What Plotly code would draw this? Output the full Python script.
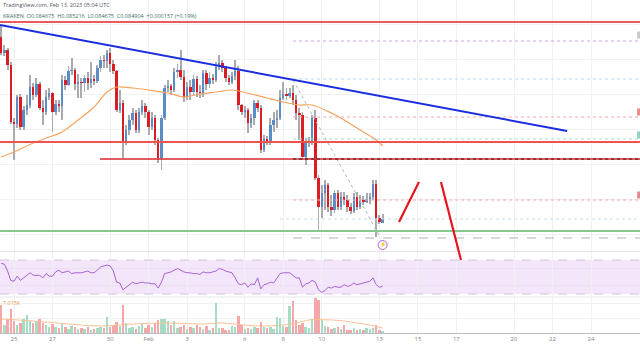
import pandas as pd
import plotly.graph_objects as go

# ---------------- data (4h candles) ----------------
times = pd.date_range("2023-01-24 08:00", periods=120, freq="4h")

opens = [0.09582, 0.09486, 0.09504, 0.09414, 0.09072, 0.09060, 0.09222, 0.09042, 0.09144, 0.09174,
         0.09282, 0.09234, 0.09300, 0.09156, 0.09132, 0.09222, 0.09246, 0.09132, 0.09180, 0.09168,
         0.09324, 0.09294, 0.09378, 0.09384, 0.09300, 0.09312, 0.09306, 0.09336, 0.09306, 0.09330,
         0.09318, 0.09396, 0.09444, 0.09438, 0.09486, 0.09420, 0.09378, 0.09144, 0.09186, 0.08952,
         0.09024, 0.09084, 0.09126, 0.09024, 0.09132, 0.09168, 0.09132, 0.09042, 0.09096, 0.08964,
         0.08856, 0.09096, 0.09276, 0.09288, 0.09264, 0.09372, 0.09384, 0.09342, 0.09222, 0.09282,
         0.09252, 0.09330, 0.09252, 0.09246, 0.09366, 0.09300, 0.09336, 0.09324, 0.09402, 0.09426,
         0.09396, 0.09336, 0.09312, 0.09348, 0.09378, 0.09174, 0.09132, 0.09144, 0.09066, 0.09096,
         0.09186, 0.09156, 0.08904, 0.08970, 0.08958, 0.09054, 0.09084, 0.09096, 0.09216, 0.09240,
         0.09228, 0.09246, 0.09204, 0.09126, 0.09114, 0.08862, 0.08952, 0.08958, 0.09096, 0.08736,
         0.08562, 0.08646, 0.08694, 0.08562, 0.08544, 0.08646, 0.08562, 0.08622, 0.08604, 0.08562,
         0.08538, 0.08622, 0.08562, 0.08604, 0.08592, 0.08610, 0.08622, 0.08700, 0.08496, 0.084675]

highs = [0.09654, 0.09534, 0.09516, 0.09432, 0.09096, 0.09234, 0.09240, 0.09168, 0.09234, 0.09354,
         0.09306, 0.09336, 0.09312, 0.09204, 0.09264, 0.09276, 0.09252, 0.09204, 0.09204, 0.09354,
         0.09348, 0.09408, 0.09456, 0.09396, 0.09360, 0.09336, 0.09354, 0.09372, 0.09432, 0.09354,
         0.09414, 0.09468, 0.09474, 0.09504, 0.09516, 0.09444, 0.09384, 0.09264, 0.09204, 0.09054,
         0.09114, 0.09156, 0.09144, 0.09156, 0.09204, 0.09186, 0.09144, 0.09132, 0.09114, 0.08976,
         0.09114, 0.09294, 0.09324, 0.09300, 0.09396, 0.09420, 0.09504, 0.09384, 0.09312, 0.09324,
         0.09354, 0.09348, 0.09294, 0.09384, 0.09384, 0.09372, 0.09360, 0.09432, 0.09474, 0.09444,
         0.09408, 0.09354, 0.09372, 0.09444, 0.09408, 0.09180, 0.09168, 0.09156, 0.09120, 0.09204,
         0.09204, 0.09174, 0.08994, 0.08988, 0.09096, 0.09132, 0.09144, 0.09264, 0.09312, 0.09276,
         0.09276, 0.09294, 0.09234, 0.09156, 0.09132, 0.08976, 0.08982, 0.09114, 0.09144, 0.08754,
         0.08694, 0.08724, 0.08706, 0.08634, 0.08664, 0.08664, 0.08652, 0.08652, 0.08634, 0.08586,
         0.08646, 0.08652, 0.08634, 0.08628, 0.08646, 0.08646, 0.08724, 0.08724, 0.08514, 0.085216]

lows = [0.09474, 0.09468, 0.09384, 0.09060, 0.08844, 0.09036, 0.09024, 0.09024, 0.09114, 0.09156,
        0.09204, 0.09222, 0.09144, 0.09054, 0.09114, 0.09204, 0.09012, 0.09114, 0.09132, 0.09084,
        0.09264, 0.09288, 0.09354, 0.09264, 0.09216, 0.09216, 0.09252, 0.09264, 0.09276, 0.09294,
        0.09306, 0.09372, 0.09396, 0.09396, 0.09372, 0.09360, 0.09132, 0.09126, 0.08856, 0.08934,
        0.08994, 0.09054, 0.09006, 0.09006, 0.09114, 0.09096, 0.08994, 0.09024, 0.08934, 0.08826,
        0.08784, 0.09084, 0.09252, 0.09234, 0.09252, 0.09336, 0.09324, 0.09192, 0.09204, 0.09204,
        0.09234, 0.09222, 0.09216, 0.09222, 0.09264, 0.09276, 0.09300, 0.09312, 0.09384, 0.09372,
        0.09312, 0.09294, 0.09300, 0.09324, 0.09144, 0.09114, 0.09096, 0.09006, 0.09036, 0.09054,
        0.09132, 0.08886, 0.08892, 0.08934, 0.08934, 0.09012, 0.09036, 0.09084, 0.09204, 0.09204,
        0.09216, 0.09174, 0.09084, 0.08964, 0.08844, 0.08814, 0.08922, 0.08934, 0.08724, 0.08424,
        0.08496, 0.08544, 0.08532, 0.08508, 0.08526, 0.08544, 0.08544, 0.08574, 0.08532, 0.08520,
        0.08526, 0.08544, 0.08550, 0.08574, 0.08586, 0.08580, 0.08604, 0.08382, 0.08460, 0.084675]

closes = [0.09486, 0.09504, 0.09414, 0.09072, 0.09060, 0.09222, 0.09042, 0.09144, 0.09174, 0.09282,
          0.09234, 0.09300, 0.09156, 0.09132, 0.09222, 0.09246, 0.09132, 0.09180, 0.09168, 0.09324,
          0.09294, 0.09378, 0.09384, 0.09300, 0.09312, 0.09306, 0.09336, 0.09306, 0.09330, 0.09318,
          0.09396, 0.09444, 0.09438, 0.09486, 0.09420, 0.09378, 0.09144, 0.09186, 0.08952, 0.09024,
          0.09084, 0.09126, 0.09024, 0.09132, 0.09168, 0.09132, 0.09042, 0.09096, 0.08964, 0.08856,
          0.09096, 0.09276, 0.09288, 0.09264, 0.09372, 0.09384, 0.09342, 0.09222, 0.09282, 0.09252,
          0.09330, 0.09252, 0.09246, 0.09366, 0.09300, 0.09336, 0.09324, 0.09402, 0.09426, 0.09396,
          0.09336, 0.09312, 0.09348, 0.09378, 0.09174, 0.09132, 0.09144, 0.09066, 0.09096, 0.09186,
          0.09156, 0.08904, 0.08970, 0.08958, 0.09054, 0.09084, 0.09096, 0.09216, 0.09240, 0.09228,
          0.09246, 0.09204, 0.09126, 0.09114, 0.08862, 0.08952, 0.08958, 0.09096, 0.08736, 0.08562,
          0.08646, 0.08694, 0.08562, 0.08544, 0.08646, 0.08562, 0.08622, 0.08604, 0.08562, 0.08538,
          0.08622, 0.08562, 0.08604, 0.08592, 0.08610, 0.08622, 0.08700, 0.08496, 0.084747, 0.084904]

rsi = [66, 65, 57, 46, 45, 51, 46, 49, 51, 55,
       52, 52, 52, 49, 54, 51, 51, 56, 58, 55,
       56, 57, 54, 55, 55, 55, 56, 57, 55, 55,
       58, 62, 63, 64, 63, 57, 44, 43, 35, 38,
       41, 44, 42, 43, 44, 43, 43, 42, 42, 37,
       44, 54, 55, 56, 58, 60, 58, 56, 55, 55,
       54, 54, 53, 56, 55, 55, 56, 57, 60, 59,
       57, 56, 55, 49, 42, 41, 43, 38, 42, 41,
       49, 36, 41, 42, 44, 43, 48, 54, 55, 55,
       55, 52, 49, 49, 38, 42, 43, 46, 44, 35,
       32, 34, 38, 37, 39, 38, 38, 41, 39, 40,
       43, 41, 42, 43, 44, 45, 49, 41, 38, 39]

volume = [14000, 4000, 7000, 12000, 6000, 4000, 5000, 7000, 9000, 6000,
          5000, 6000, 7000, 5000, 4000, 3000, 4500, 3000, 2500, 5000,
          3000, 2000, 3500, 3000, 2000, 2500, 2000, 3000, 1500, 2000,
          2500, 3000, 2500, 8000, 3000, 4000, 5500, 3500, 14000, 5000,
          2500, 3000, 2000, 3500, 4500, 2500, 4000, 3000, 5000, 6500,
          7000, 7000, 6000, 4000, 6000, 2500, 3000, 4000, 2000, 3000,
          2500, 4000, 3000, 2000, 3500, 1500, 2500, 15000, 2500, 2500,
          1500, 1500, 3500, 3000, 8500, 4000, 2000, 2500, 2000, 3000,
          2500, 5500, 3000, 2500, 3000, 2000, 8000, 7500, 3500, 3000,
          13500, 16000, 6500, 4000, 5000, 3000, 2500, 7000, 17500, 16500,
          6500, 3500, 3000, 2000, 2500, 3000, 2000, 4000, 1500, 1500,
          2500, 1500, 2000, 1500, 2500, 2000, 2500, 4000, 1500, 1000]

# moving average of price (orange), read at selected candles
ma_idx = [0, 4, 10, 15, 19, 24, 29, 33, 36, 41, 46, 52, 57, 62, 67, 72, 78, 83, 88, 93,
          97, 103, 107, 111, 113, 117, 119]
ma_vals = [0.08862, 0.08892, 0.08946, 0.08982, 0.09012, 0.09084, 0.09162, 0.09252, 0.09282,
           0.09276, 0.09264, 0.09246, 0.09222, 0.09240, 0.09252, 0.09264, 0.09240, 0.09216,
           0.09192, 0.09174, 0.09174, 0.09126, 0.09084, 0.09036, 0.09012, 0.08964, 0.08928]

# volume moving average (light orange)
vma_idx = [0, 10, 21, 31, 41, 52, 62, 69, 80, 88, 92, 96, 103, 107, 111, 115, 119]
vma_vals = [7000, 6000, 4500, 3500, 4500, 5000, 4500, 5000, 3500, 4000, 5000, 6500, 6500,
            6000, 5000, 4000, 2500]

tick_dates = ["2023-01-25", "2023-01-27", "2023-01-30", "2023-02-01", "2023-02-03",
              "2023-02-06", "2023-02-08", "2023-02-10", "2023-02-13", "2023-02-15",
              "2023-02-17", "2023-02-20", "2023-02-22", "2023-02-24"]
tick_text = ["25", "27", "30", "Feb", "3", "6", "8", "10", "13", "15", "17", "20", "22", "24"]

# drawn levels
resistance_top = 0.09672
trend_pts = (("2023-01-24 06:32", 0.09654), ("2023-02-22 18:15", 0.09018))
red_level = 0.08952
red_level2 = 0.08850
red_level2_start = "2023-01-29 11:20"
support_green = 0.08418
fib_start = "2023-02-08 12:15"
fib_levels = [0.09558, 0.09330, 0.09102, 0.08970, 0.08604, 0.08376]
fib_colors = ["#c4a8e0", "#b5dcef", "#f2a9a9", "#a5dccd", "#f2a9a9", "#b0b0b0"]
last_price_line = 0.08490
last_price_start = "2023-02-07 20:00"
fib_diag = (("2023-02-08 12:15", 0.09324), ("2023-02-13 00:45", 0.08382))
arrow_up = (("2023-02-14 00:25", 0.08472), ("2023-02-15 01:20", 0.08712))
arrow_down = (("2023-02-16 04:50", 0.08712), ("2023-02-17 05:45", 0.08244))
event_pt = ("2023-02-13 04:00", 0.08334)
edge_tags = [(0.09594, "#c9c9cf"), (0.09132, "#e88a8a"), (0.08994, "#8fd3c3"), (0.08634, "#e88a8a")]

x_range = ["2023-01-24 06:32", "2023-02-26 13:09"]
price_range = [0.08298, 0.09804]
rsi_range = [26.5, 79.4]
vol_range = [0, 18000]

# ---------------- layout geometry ----------------
H_PLOT = 333.0
dom_price = [(H_PLOT - 251) / H_PLOT, 1.0]
dom_rsi = [(H_PLOT - 297) / H_PLOT, (H_PLOT - 252) / H_PLOT]
dom_vol = [0.0, (H_PLOT - 297) / H_PLOT]

t0 = pd.Timestamp(x_range[0])
t1 = pd.Timestamp(x_range[1])


def xp(t):
    return (pd.Timestamp(t) - t0) / (t1 - t0)


def yp(p):
    return dom_price[0] + (p - price_range[0]) / (price_range[1] - price_range[0]) * (dom_price[1] - dom_price[0])


def pix(py):
    return (H_PLOT - py) / H_PLOT


UP = "#5a8dc6"
DN = "#dc1c22"
WICK = "#a9abb0"
period_ms = 4 * 3600 * 1000

up_flags = [c >= o for o, c in zip(opens, closes)]
body_base = [min(o, c) for o, c in zip(opens, closes)]
body_h = [max(abs(c - o), 0.00002) for o, c in zip(opens, closes)]
wick_h = [h - l for h, l in zip(highs, lows)]

fig = go.Figure()

# wicks
fig.add_trace(go.Bar(x=times, y=wick_h, base=lows, width=0.28 * period_ms,
                     marker=dict(color=WICK, line=dict(width=0)), xaxis="x", yaxis="y",
                     hoverinfo="skip", showlegend=False))
# bodies
fig.add_trace(go.Bar(x=times, y=body_h, base=body_base, width=0.76 * period_ms,
                     marker=dict(color=[UP if u else DN for u in up_flags], line=dict(width=0)),
                     xaxis="x", yaxis="y", showlegend=False))
# price MA
fig.add_trace(go.Scatter(x=[times[i] for i in ma_idx], y=ma_vals, mode="lines",
                         line=dict(color="#f5a35e", width=1.2, shape="spline", smoothing=0.8),
                         xaxis="x", yaxis="y", showlegend=False, hoverinfo="skip"))
# event marker
fig.add_trace(go.Scatter(x=[event_pt[0]], y=[event_pt[1]], mode="markers+text", text=["⚡"],
                         textposition="middle center", textfont=dict(size=5, color="#b163d6"),
                         marker=dict(symbol="circle", size=9, color="white",
                                     line=dict(color="#b163d6", width=1)),
                         xaxis="x", yaxis="y", showlegend=False, cliponaxis=False))

# RSI
fig.add_trace(go.Scatter(x=times, y=rsi, mode="lines", line=dict(color="#a862d2", width=1),
                         xaxis="x2", yaxis="y2", showlegend=False))

# volume
fig.add_trace(go.Bar(x=times, y=volume, width=0.76 * period_ms,
                     marker=dict(color=["#a6dbc4" if u else "#f5a6a8" for u in up_flags],
                                 line=dict(width=0)),
                     xaxis="x3", yaxis="y3", showlegend=False))
fig.add_trace(go.Scatter(x=[times[i] for i in vma_idx], y=vma_vals, mode="lines",
                         line=dict(color="#fbc195", width=1, shape="spline"),
                         xaxis="x3", yaxis="y3", showlegend=False))

shapes = []
# RSI band
shapes.append(dict(type="rect", xref="x2 domain", yref="y2", x0=0, x1=1, y0=30, y1=70,
                   fillcolor="#f3e6fb", line=dict(width=0), layer="below"))
for lv in (70, 30):
    shapes.append(dict(type="line", xref="x2 domain", yref="y2", x0=0, x1=1, y0=lv, y1=lv,
                       line=dict(color="#cdb8de", width=0.8, dash="dash")))
for lv in (60, 40):
    shapes.append(dict(type="line", xref="x2 domain", yref="y2", x0=0, x1=1, y0=lv, y1=lv,
                       line=dict(color="#e9dcf3", width=0.8), layer="below"))

# pane separators
for py in (251.5, 297):
    shapes.append(dict(type="line", xref="paper", yref="paper", x0=0, x1=1,
                       y0=pix(py), y1=pix(py), line=dict(color="#e3e5ea", width=1)))

# fib levels
for lv, col in zip(fib_levels, fib_colors):
    dash = "dash" if col == "#b0b0b0" else "dot"
    shapes.append(dict(type="line", xref="x", yref="y", x0=fib_start, x1=x_range[1],
                       y0=lv, y1=lv, line=dict(color=col, width=1, dash=dash)))
shapes.append(dict(type="line", xref="x", yref="y", x0=last_price_start, x1=x_range[1],
                   y0=last_price_line, y1=last_price_line,
                   line=dict(color="#c3dcee", width=1, dash="dot")))
shapes.append(dict(type="line", xref="x", yref="y", x0=fib_diag[0][0], x1=fib_diag[1][0],
                   y0=fib_diag[0][1], y1=fib_diag[1][1],
                   line=dict(color="#b4b4b4", width=1, dash="dot")))

# horizontal levels
shapes.append(dict(type="line", xref="x domain", yref="y", x0=0, x1=1,
                   y0=resistance_top, y1=resistance_top, line=dict(color="#e0262b", width=1.5)))
shapes.append(dict(type="line", xref="x domain", yref="y", x0=0, x1=1,
                   y0=red_level, y1=red_level, line=dict(color="#ef5350", width=2)))
shapes.append(dict(type="line", xref="x", yref="y", x0=red_level2_start, x1=x_range[1],
                   y0=red_level2, y1=red_level2, line=dict(color="#d8262b", width=1.6)))
shapes.append(dict(type="line", xref="x", yref="y", x0=fib_start, x1=x_range[1],
                   y0=red_level2, y1=red_level2, line=dict(color="#3a1010", width=1, dash="dot")))
shapes.append(dict(type="line", xref="x domain", yref="y", x0=0, x1=1,
                   y0=support_green, y1=support_green, line=dict(color="#86c98c", width=2)))

# trend line
shapes.append(dict(type="line", xref="x", yref="y", x0=trend_pts[0][0], x1=trend_pts[1][0],
                   y0=trend_pts[0][1], y1=trend_pts[1][1], line=dict(color="#1a2ee0", width=2)))

# forecast strokes
for seg in (arrow_up, arrow_down):
    shapes.append(dict(type="line", xref="paper", yref="paper",
                       x0=xp(seg[0][0]), x1=xp(seg[1][0]), y0=yp(seg[0][1]), y1=yp(seg[1][1]),
                       line=dict(color="#e8141c", width=2.2)))

# right edge price tags (cropped)
for p, col in edge_tags:
    shapes.append(dict(type="rect", xref="paper", yref="y", x0=0.9955, x1=1.0,
                       y0=p - 0.00021, y1=p + 0.00021, fillcolor=col, line=dict(width=0)))

annotations = [
    dict(xref="paper", yref="paper", x=0, y=pix(5), xanchor="left", yanchor="middle",
         xshift=1, text="TradingView.com, Feb 13, 2023 05:04 UTC", showarrow=False,
         font=dict(size=5.5, color="#50535e", family="Open Sans")),
    dict(xref="paper", yref="paper", x=0, y=pix(16), xanchor="left", yanchor="middle",
         xshift=1,
         text="KRAKEN  O0.084675  H0.085216  L0.084675  C0.084904  +0.000157 (+0.19%)",
         showarrow=False, font=dict(size=5.5, color="#3e6f63", family="Open Sans")),
    dict(xref="paper", yref="paper", x=0, y=pix(303), xanchor="left", yanchor="middle",
         xshift=1, text="7.075K", showarrow=False,
         font=dict(size=5.5, color="#f39a55", family="Open Sans")),
]

grid_col = "#f0f1f4"
xcommon = dict(type="date", range=x_range, tickvals=tick_dates, ticktext=tick_text,
               showgrid=True, gridcolor=grid_col, gridwidth=1, zeroline=False,
               showline=False, ticks="")

fig.update_layout(
    width=640, height=360,
    margin=dict(l=0, r=0, t=0, b=27),
    paper_bgcolor="white", plot_bgcolor="white",
    barmode="overlay", bargap=0,
    showlegend=False,
    font=dict(family="Open Sans", size=6, color="#80838d"),
    xaxis=dict(xcommon, anchor="y", showticklabels=False),
    xaxis2=dict(xcommon, anchor="y2", matches="x", showticklabels=False),
    xaxis3=dict(xcommon, anchor="y3", matches="x", showticklabels=True,
                tickfont=dict(size=6, color="#80838d"),
                showline=True, linecolor="#b9bcc4", linewidth=1),
    yaxis=dict(domain=dom_price, range=price_range, showticklabels=False,
               showgrid=True, gridcolor=grid_col, dtick=0.0021, tick0=0.084, zeroline=False),
    yaxis2=dict(domain=dom_rsi, range=rsi_range, showticklabels=False, showgrid=False,
                zeroline=False),
    yaxis3=dict(domain=dom_vol, range=vol_range, showticklabels=False, showgrid=True,
                gridcolor=grid_col, tickvals=[7500, 15000], zeroline=False),
    shapes=shapes,
    annotations=annotations,
)

fig.write_html("out.html", config={"displayModeBar": False},
               post_script="document.body.style.margin='0';document.body.style.overflow='hidden';")
